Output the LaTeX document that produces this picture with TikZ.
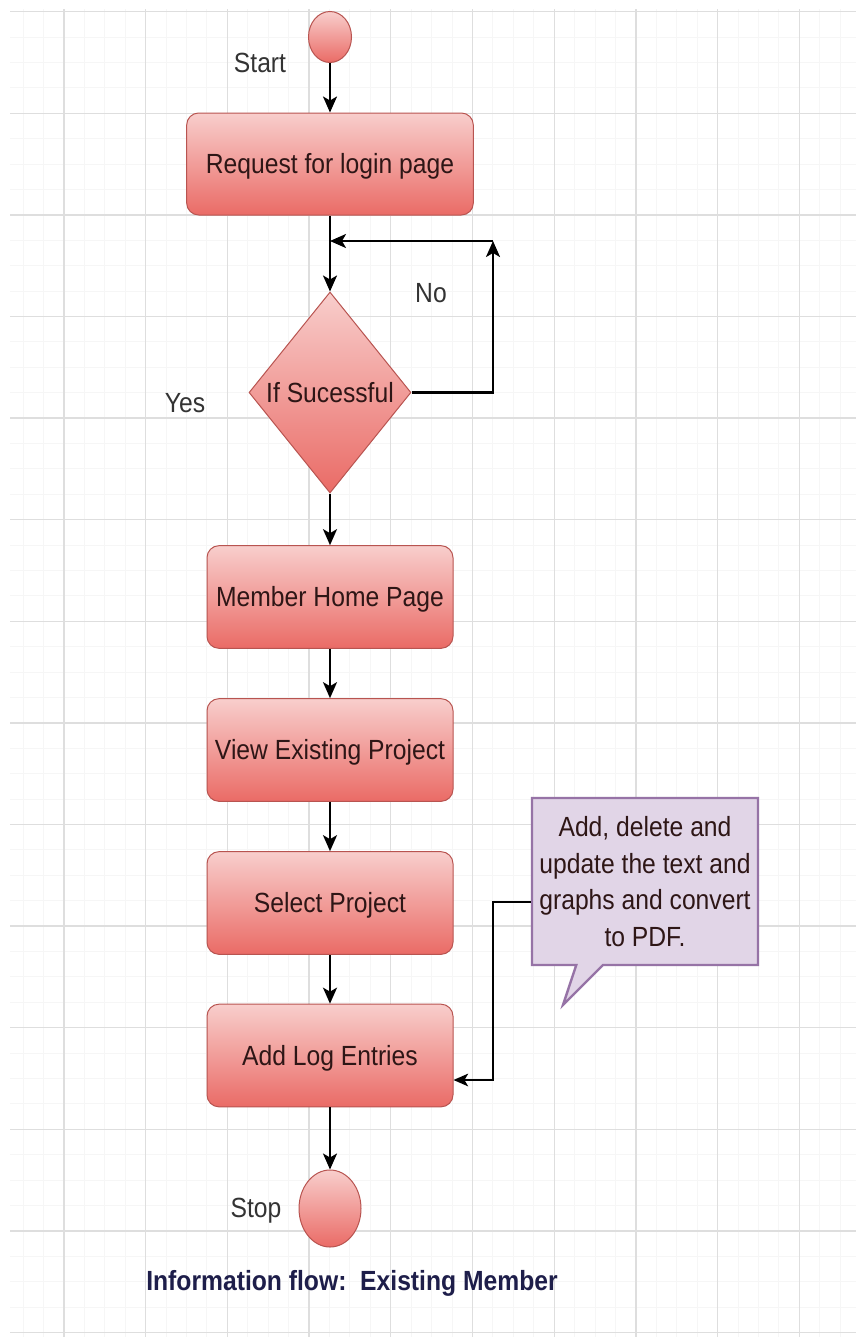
\documentclass[tikz,border=0pt]{standalone}
\usepackage{fontspec}
\setmainfont{Liberation Sans}[FakeStretch=0.89]
\usetikzlibrary{shapes.geometric,shapes.callouts,arrows.meta}

\definecolor{gridmajor}{HTML}{DEDEDE}
\definecolor{gridminor}{HTML}{F6F6F6}
\definecolor{boxtop}{HTML}{F8CECC}
\definecolor{boxbot}{HTML}{EA6B66}
\definecolor{boxline}{HTML}{B85450}
\definecolor{boxtext}{HTML}{2E1616}
\definecolor{labeltext}{HTML}{333333}
\definecolor{titletext}{HTML}{1E1E4A}
\definecolor{notefill}{HTML}{E1D5E7}
\definecolor{noteline}{HTML}{9673A6}

\tikzset{
  basefont/.style={font=\fontsize{20.8pt}{27.5pt}\selectfont},
  stepbox/.style={rectangle, rounded corners=9pt, draw=boxline, line width=0.75pt,
    top color=boxtop, bottom color=boxbot, text=boxtext, basefont,
    minimum width=184.5pt, minimum height=77pt, text height=14.9pt, text depth=0pt, inner sep=0pt},
  decision/.style={diamond, draw=boxline, line width=0.75pt,
    top color=boxtop, bottom color=boxbot, text=boxtext, basefont,
    minimum width=121.5pt, minimum height=150.75pt, inner sep=0pt},
  terminal/.style={ellipse, draw=boxline, line width=0.75pt,
    top color=boxtop, bottom color=boxbot, inner sep=0pt},
  tag/.style={basefont, text=labeltext, anchor=base, inner sep=0pt},
  note/.style={rectangle callout, draw=noteline, line width=1.8pt, fill=notefill,
    text=boxtext, basefont, align=center, minimum width=169.5pt, minimum height=125.25pt,
    callout pointer width=20pt, inner sep=0pt},
  flow/.style={draw=black, line width=1.7pt, -{Stealth[length=12pt,width=10.5pt,inset=3pt]}},
  link/.style={draw=black, line width=1.4pt, -{Stealth[length=11pt,width=9.5pt,inset=2.8pt]}}
}

\begin{document}
\begin{tikzpicture}[x=0.75pt, y=-0.75pt]
  % page and background grid
  \fill[white] (0,0) rectangle (856,1338);
  \useasboundingbox (0,0) rectangle (856,1338);
  \begin{scope}
    \clip (10,10) rectangle (856,1336);
    \foreach \i in {-3,...,40}
      \draw[gridminor, line width=0.75pt] ({64+20.425*\i},0) -- ({64+20.425*\i},1338);
    \foreach \j in {-1,...,53}
      \draw[gridminor, line width=0.75pt] (0,{11.7+25.4*\j}) -- (856,{11.7+25.4*\j});
    \foreach \i in {0,...,9}
      \draw[gridmajor, line width=1pt] ({64+81.7*\i},0) -- ({64+81.7*\i},1338);
    \foreach \j in {0,...,13}
      \draw[gridmajor, line width=1pt] (0,{11.7+101.6*\j}) -- (856,{11.7+101.6*\j});
  \end{scope}

  % flow nodes
  \node[terminal, minimum width=32.25pt, minimum height=38.25pt] (start) at (330,37) {};
  \node[stepbox, minimum width=215pt, minimum height=76.5pt] (login) at (330,164) {Request for login page};
  \node[decision] (check) at (330,392.5) {\makebox[0pt]{If Sucessful}};
  \node[stepbox] (home) at (330,597) {Member Home Page};
  \node[stepbox] (view) at (330,750) {View Existing Project};
  \node[stepbox] (select) at (330,903) {Select Project};
  \node[stepbox] (logs) at (330,1055.5) {Add Log Entries};
  \node[terminal, minimum width=46.5pt, minimum height=57.75pt] (stop) at (330,1208.5) {};

  % side labels
  \node[tag] (lstart) at (260,73) {Start};
  \node[tag] (lno) at (431,302) {No};
  \node[tag] (lyes) at (185,412) {Yes};
  \node[tag] (lstop) at (256,1217) {Stop};
  \node[basefont, font=\fontsize{20.8pt}{25pt}\selectfont\bfseries, text=titletext, anchor=base, inner sep=0pt]
    (title) at (352,1290) {Information flow:\ \ Existing Member};

  % note
  \node[note, callout absolute pointer={(563,1005)}] (remark) at (645,881.5)
    {Add, delete and\\update the text and\\graphs and convert\\to PDF.};

  % connectors
  \coordinate (loopturn) at (493,241);
  \coordinate (notebend) at (493,902);
  \coordinate (notedrop) at (493,1080);

  \draw[flow] (start) -- (login);
  \draw[flow] (login.south) -- (check.north);
  \draw[flow] (check.east) -| (loopturn);
  \draw[flow] (loopturn) -- (loopturn -| login.south);
  \draw[flow] (check.south) -- (home.north);
  \draw[flow] (home) -- (view);
  \draw[flow] (view) -- (select);
  \draw[flow] (select) -- (logs);
  \draw[flow] (logs) -- (stop);
  \draw[link] (remark.west |- notebend) -- (notebend) -- (notedrop) -- (notedrop -| logs.east);
\end{tikzpicture}
\end{document}
